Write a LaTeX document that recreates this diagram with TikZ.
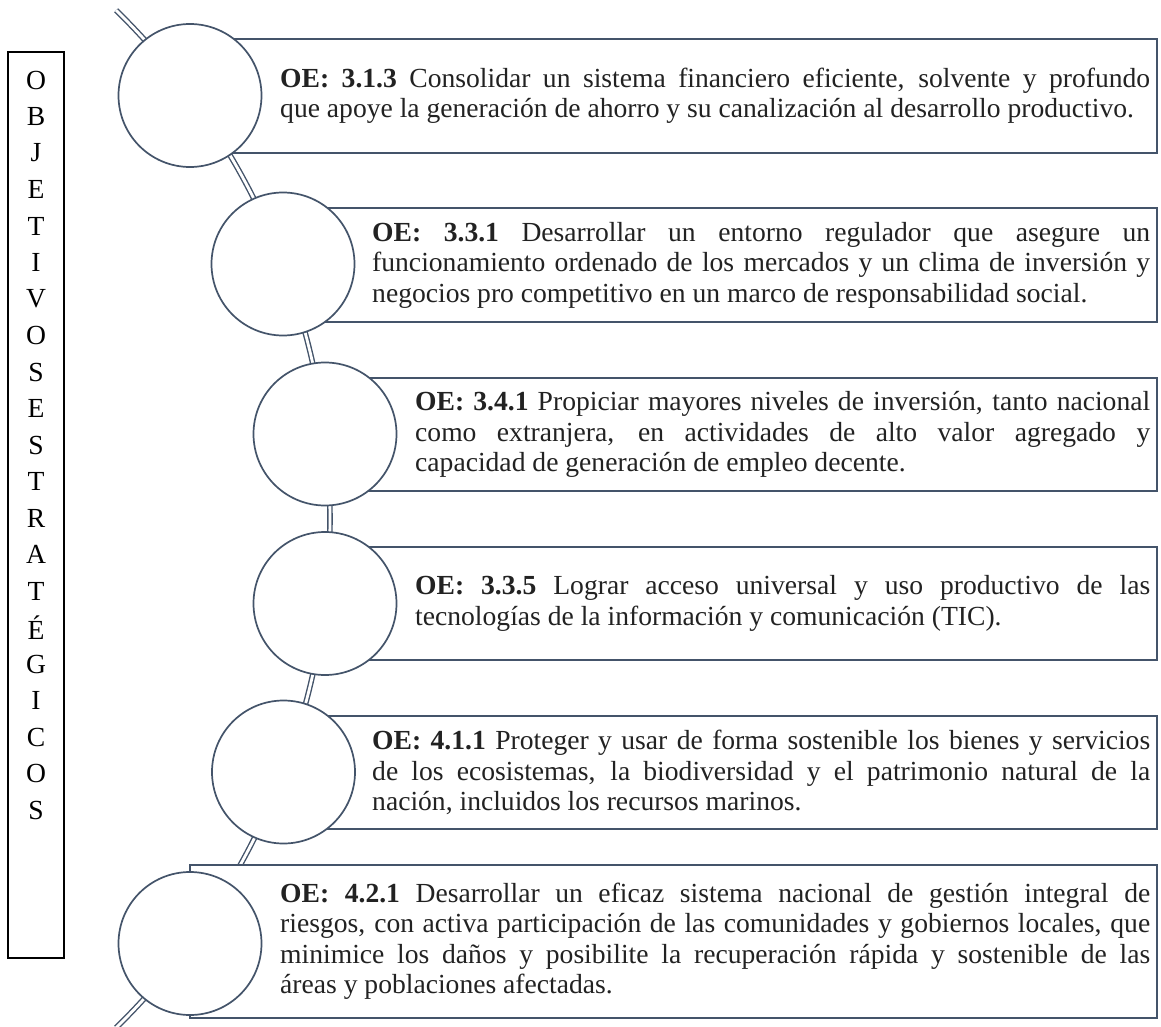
\documentclass[tikz,border=0pt]{standalone}
\usepackage{fontspec}
\setmainfont{Liberation Serif}
\definecolor{slate}{HTML}{44546A}
\definecolor{txt}{HTML}{222222}
\newcommand\oeprep{\hyphenpenalty=10000 \tolerance=10000 \emergencystretch=20pt }
\begin{document}
\begin{tikzpicture}[x=1pt,y=-1pt,
  bubble/.style={circle,draw=slate,line width=1.7pt,fill=white,minimum size=143pt,inner sep=0pt},
  oebox/.style={draw=slate,line width=1.7pt,fill=white},
  oetext/.style={anchor=west,inner sep=0pt,align=justify,text=txt,
     font=\fontsize{27.6}{30.5}\selectfont},
  spine/.style={draw=slate,line width=1.4pt,double=white,double distance=2.8pt},
  letter/.style={font=\fontsize{27.6}{30}\selectfont,inner sep=0pt}]
\useasboundingbox (0,0) rectangle (1161,1027);
% vertical label box
\draw[line width=1.2pt] (8,52) rectangle (64,958);
\foreach \l [count=\i from 0] in {O,B,J,E,T,I,V,O,S,E,S,T,R,A,T,É,G,I,C,O,S}
  \node[letter] (L\i) at (36,{80+36.5*\i}) {\l};
% spine arc
\coordinate (arcC) at (-382,519);
\draw[spine] (arcC) ++(45.6:712pt) arc[start angle=45.6,end angle=-45.6,radius=712pt];
% boxes
\draw[oebox] (190,39) rectangle (1157,153);
\draw[oebox] (283,208) rectangle (1157,322);
\draw[oebox] (325,378) rectangle (1157,491);
\draw[oebox] (325,547) rectangle (1157,660);
\draw[oebox] (283,716) rectangle (1157,829);
\draw[oebox] (190,865) rectangle (1157,1018);
% circles
\node[bubble] (c1) at (190,95.5) {};
\node[bubble] (c2) at (283,264) {};
\node[bubble] (c3) at (325,434) {};
\node[bubble] (c4) at (325,603.5) {};
\node[bubble] (c5) at (283.5,772) {};
\node[bubble] (c6) at (190,943.5) {};
% texts
\node[oetext,text width=870pt] (t1) at (280,96) {\oeprep\textbf{OE: 3.1.3} Consolidar un sistema financiero eficiente, solvente y profundo\linebreak que apoye la generación de ahorro y su canalización al desarrollo productivo.};
\node[oetext,text width=778pt] (t2) at (372,265) {\oeprep\textbf{OE: 3.3.1} Desarrollar un entorno regulador que asegure un\linebreak funcionamiento ordenado de los mercados y un clima de inversión y\linebreak negocios pro competitivo en un marco de responsabilidad social.};
\node[oetext,text width=735pt] (t3) at (415,434.5) {\oeprep\textbf{OE: 3.4.1} Propiciar mayores niveles de inversión, tanto nacional\linebreak como extranjera, en actividades de alto valor agregado y\linebreak capacidad de generación de empleo decente.};
\node[oetext,text width=735pt] (t4) at (415,603.5) {\oeprep\textbf{OE: 3.3.5} Lograr acceso universal y uso productivo de las\linebreak tecnologías de la información y comunicación (TIC).};
\node[oetext,text width=778pt] (t5) at (372,772.5) {\oeprep\textbf{OE: 4.1.1} Proteger y usar de forma sostenible los bienes y servicios\linebreak de los ecosistemas, la biodiversidad y el patrimonio natural de la\linebreak nación, incluidos los recursos marinos.};
\node[oetext,text width=870pt] (t6) at (280,941.5) {\oeprep\textbf{OE: 4.2.1} Desarrollar un eficaz sistema nacional de gestión integral de\linebreak riesgos, con activa participación de las comunidades y gobiernos locales, que\linebreak minimice los daños y posibilite la recuperación rápida y sostenible de las\linebreak áreas y poblaciones afectadas.};
\end{tikzpicture}
\end{document}
